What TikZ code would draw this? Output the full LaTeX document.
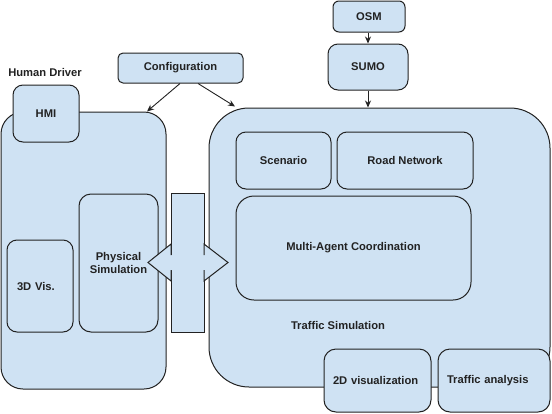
\documentclass[tikz,border=0pt]{standalone}
\usepackage{fontspec}
\setmainfont{Liberation Sans}
\usetikzlibrary{arrows.meta}
\definecolor{boxfill}{HTML}{CFE2F3}
\definecolor{boxline}{HTML}{222222}
\begin{document}
\begin{tikzpicture}[x=1pt,y=-1pt,
  every node/.style={font=\fontsize{11.2}{13}\selectfont\bfseries, text=boxline},
  blk/.style={draw=boxline, fill=boxfill, line width=1pt, inner sep=0pt, align=center},
  arr/.style={draw=boxline, line width=0.9pt, -{Stealth[length=7pt,width=6pt]}},
  lbl/.style={inner sep=0pt}]
\useasboundingbox (0,0) rectangle (552,413);
% Human driver side
\node[blk, rounded corners=22pt, minimum width=165pt, minimum height=277pt] (LD) at (83.5,250.5) {};
\node[blk, rounded corners=10pt, minimum width=66pt, minimum height=57pt] (HMI) at (46,113.5) {HMI};
\node[blk, rounded corners=12pt, minimum width=79pt, minimum height=138pt] (PS) at (118.5,263) {Physical\\Simulation};
\node[blk, rounded corners=10pt, minimum height=92pt, text width=46pt, inner xsep=10pt, align=left] (VIS3) at (40,286) {3D Vis.};
\node[lbl] (HD) at (45,72) {Human Driver};
% Traffic simulation side
\node[blk, rounded corners=40pt, minimum width=341pt, minimum height=279pt] (TS) at (379.5,247.5) {};
\node[blk, rounded corners=10pt, minimum width=95pt, minimum height=57pt] (SC) at (283.5,160.5) {Scenario};
\node[blk, rounded corners=10pt, minimum width=136pt, minimum height=57pt] (RN) at (405,160.5) {Road Network};
\node[blk, rounded corners=18pt, minimum width=235pt, minimum height=104pt] (MAC) at (353.5,248) {Multi-Agent Coordination};
\node[lbl] (TSL) at (338,325) {Traffic Simulation};
\node[blk, rounded corners=12pt, minimum height=63pt, text width=89pt, inner xsep=9pt, align=left] (V2D) at (377.5,380.5) {2D visualization};
\node[blk, rounded corners=12pt, minimum height=63pt, text width=94pt, inner xsep=9pt, align=left] (TA) at (494,380.5) {Traffic analysis};
% Top boxes
\node[blk, rounded corners=5pt, minimum width=125pt, minimum height=30pt] (CFG) at (180.5,68) {Configuration};
\node[blk, rounded corners=6pt, minimum width=72pt, minimum height=31pt] (OSM) at (369,16.5) {OSM};
\node[blk, rounded corners=10pt, minimum width=80pt, minimum height=46pt] (SUMO) at (368,67) {SUMO};
% Coupling bar and double arrow
\node[draw=boxline, fill=boxfill, line width=1pt, minimum width=33pt, minimum height=139pt, inner sep=0pt] (BAR) at (187.5,262.5) {};
\coordinate (LT) at (148,262.5);
\coordinate (RT) at (228,262.5);
\fill[boxfill] (LT) -- (171,244) -- (171,255) -- (204,255) -- (204,244) -- (RT) -- (204,281) -- (204,270) -- (171,270) -- (171,281) -- cycle;
\draw[boxline, line width=1pt, line join=miter] (171,255) -- (171,244) -- (LT) -- (171,281) -- (171,270);
\draw[boxline, line width=1pt, line join=miter] (204,255) -- (204,244) -- (RT) -- (204,281) -- (204,270);
% Connectors
\draw[arr] ([xshift=-0.5pt]CFG.south) -- ([xshift=63.5pt]LD.north);
\draw[arr] ([xshift=17.5pt]CFG.south) -- ([xshift=-144.5pt,yshift=1pt]TS.north);
\draw[arr] ([xshift=-1pt]OSM.south) -- (SUMO.north);
\draw[arr] (SUMO.south) -- ([xshift=-11.5pt]TS.north);
\end{tikzpicture}
\end{document}
